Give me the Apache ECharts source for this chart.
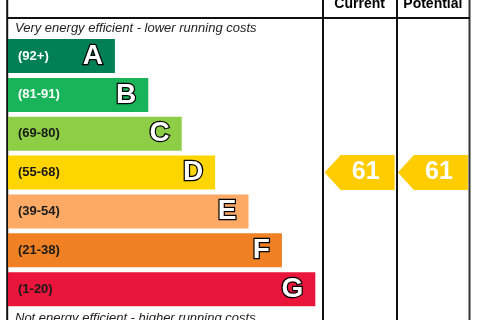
<!DOCTYPE html>
<html>
<head>
<meta charset="utf-8">
<script src="https://cdn.jsdelivr.net/npm/echarts@6/dist/echarts.min.js"></script>
<style>
  html, body { margin: 0; padding: 0; background: #fff; }
  #chart { width: 480px; height: 320px; }
</style>
</head>
<body>
<div id="chart"></div>
<script>
// energy bands, top (most efficient) to bottom
const bands = ['A', 'B', 'C', 'D', 'E', 'F', 'G'];
const bandRanges = ['(92+)', '(81-91)', '(69-80)', '(55-68)', '(39-54)', '(21-38)', '(1-20)'];
const bandMin = [92, 81, 69, 55, 39, 21, 1];
const barLengths = [32, 42, 52, 62, 72, 82, 92];
const columns = ['Current', 'Potential'];
const ratings = [61, 61];

const bandColors = ['#008054', '#19b459', '#8dce46', '#ffd500', '#fcaa65', '#ef8023', '#e9153b'];
const rangeTextColors = ['#fff', '#fff', '#1a1a1a', '#1a1a1a', '#1a1a1a', '#1a1a1a', '#1a1a1a'];
const arrowColor = '#ffcc00';
const font = '"Liberation Sans", Arial, sans-serif';

function bandOf(r) {
  return bands[bandMin.findIndex(m => r >= m)];
}

var chart = echarts.init(document.getElementById('chart'));

var gridTop = 36.6, gridHeight = 272;

var option = {
  animation: false,
  textStyle: { fontFamily: font },
  title: [
    {
      text: 'Very energy efficient - lower running costs',
      left: 15, top: 22, padding: 0,
      textStyle: { fontFamily: font, fontSize: 13, fontStyle: 'italic', fontWeight: 'normal', color: '#222' }
    },
    {
      text: 'Not energy efficient - higher running costs',
      left: 15, top: 312, padding: 0,
      textStyle: { fontFamily: font, fontSize: 13, fontStyle: 'italic', fontWeight: 'normal', color: '#222' }
    }
  ],
  grid: [
    { left: 8, top: gridTop, width: 314, height: gridHeight, outerBoundsMode: 'none' },
    { left: 323, right: 10.5, top: gridTop, height: gridHeight, outerBoundsMode: 'none' }
  ],
  xAxis: [
    { gridIndex: 0, type: 'value', min: 0, max: 94, show: false },
    {
      gridIndex: 1, type: 'category', data: columns, position: 'top',
      axisLine: { show: false }, axisTick: { show: false }, splitLine: { show: false },
      axisLabel: { interval: 0, margin: 25, fontFamily: font, fontSize: 14, fontWeight: 'bold', color: '#000' }
    }
  ],
  yAxis: [
    { gridIndex: 0, type: 'category', data: bands, inverse: true, show: false },
    { gridIndex: 1, type: 'category', data: bands, inverse: true, show: false }
  ],
  graphic: [
    { type: 'line', shape: { x1: 7.2, y1: 0, x2: 7.2, y2: 320 }, style: { stroke: '#111', lineWidth: 2 } },
    { type: 'line', shape: { x1: 323, y1: 0, x2: 323, y2: 320 }, style: { stroke: '#111', lineWidth: 2 } },
    { type: 'line', shape: { x1: 397, y1: 0, x2: 397, y2: 320 }, style: { stroke: '#111', lineWidth: 2 } },
    { type: 'line', shape: { x1: 469.5, y1: 0, x2: 469.5, y2: 320 }, style: { stroke: '#333', lineWidth: 2 } },
    { type: 'line', shape: { x1: 7, y1: 18, x2: 470, y2: 18 }, style: { stroke: '#111', lineWidth: 2 } }
  ],
  series: [
    {
      type: 'bar', xAxisIndex: 0, yAxisIndex: 0,
      barWidth: 34,
      silent: true,
      data: barLengths.map((v, i) => ({ value: v, itemStyle: { color: bandColors[i] } })),
      label: {
        show: true, position: 'insideRight', distance: 12,
        formatter: p => bands[p.dataIndex],
        fontFamily: font, fontSize: 28, fontWeight: 'bold', color: '#fff',
        textBorderColor: '#000', textBorderWidth: 2.5
      }
    },
    {
      type: 'bar', xAxisIndex: 0, yAxisIndex: 0,
      barWidth: 34, barGap: '-100%',
      silent: true,
      data: barLengths.map((v, i) => ({ value: v, label: { color: rangeTextColors[i] } })),
      itemStyle: { color: 'rgba(0,0,0,0)' },
      label: {
        show: true, position: 'insideLeft', distance: 10,
        formatter: p => bandRanges[p.dataIndex],
        fontFamily: font, fontSize: 13, fontWeight: 'bold'
      }
    },
    {
      type: 'scatter', xAxisIndex: 1, yAxisIndex: 1,
      silent: true,
      symbol: 'path://M0,17.5L16,0L70,0L70,35L16,35Z',
      symbolSize: [70, 35],
      itemStyle: { color: arrowColor, opacity: 1 },
      data: ratings.map((r, i) => ({ value: [columns[i], bandOf(r)], rating: r })),
      label: {
        show: true, position: 'inside', offset: [6, 0],
        formatter: p => p.data.rating,
        fontFamily: font, fontSize: 25, fontWeight: 'bold', color: '#fff'
      }
    }
  ]
};

chart.setOption(option);
</script>
</body>
</html>
